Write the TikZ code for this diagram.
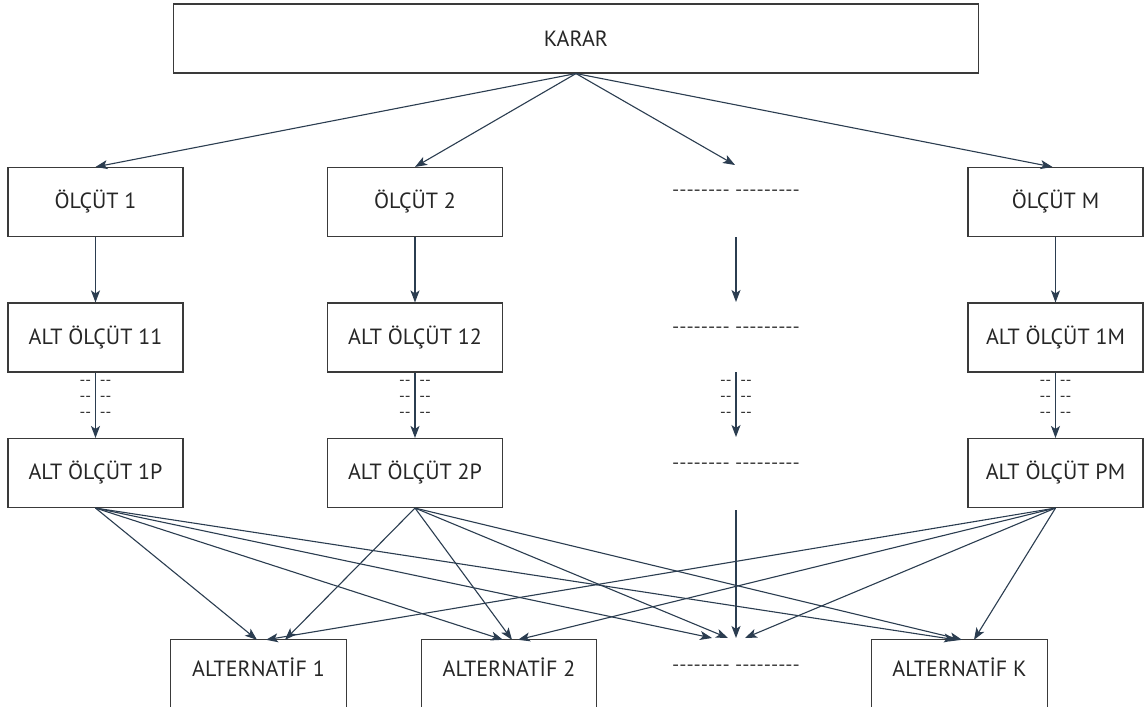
\documentclass[tikz,border=0pt]{standalone}
\usepackage{fontspec}
\setmainfont{PT Sans}
\usetikzlibrary{arrows.meta}
\definecolor{arr}{HTML}{2B3D50}
\definecolor{edge}{HTML}{3A3A3A}
\tikzset{
  box/.style={draw=edge, line width=1.1bp, minimum width=175bp, minimum height=69bp, inner sep=0pt, font=\fontsize{22bp}{26bp}\selectfont, text=black!85},
  altbox/.style={draw=none, minimum width=175bp, minimum height=54bp, inner sep=0pt, font=\fontsize{22bp}{26bp}\selectfont, text=black!85},
  dashtxt/.style={inner sep=0pt, font=\fontsize{20bp}{24bp}\selectfont, text=black!75},
  smalldash/.style={inner sep=0pt, font=\fontsize{16bp}{18bp}\selectfont, text=black!80, align=center},
  con/.style={draw=arr, line width=1.1bp, -{Stealth[length=12bp,width=9bp,inset=3bp]}}
}
\begin{document}
\begin{tikzpicture}[x=1bp,y=-1bp]
\clip (0,0) rectangle (1146,707);
\fill[white] (0,0) rectangle (1146,707);
% top
\node[box, minimum width=805bp] (karar) at (576,38.5) {KARAR};
% row 1
\node[box] (o1) at (95.5,202) {ÖLÇÜT 1};
\node[box] (o2) at (415,202) {ÖLÇÜT 2};
\node[dashtxt] (d1) at (736,193) {-{}-{}-{}-{}-{}-{}-{}- -{}-{}-{}-{}-{}-{}-{}-{}-};
\node[box] (om) at (1055.5,202) {ÖLÇÜT M};
% row 2
\node[box] (a11) at (95.5,337.5) {ALT ÖLÇÜT 11};
\node[box] (a12) at (415,337.5) {ALT ÖLÇÜT 12};
\node[dashtxt] (d2) at (736,330) {-{}-{}-{}-{}-{}-{}-{}- -{}-{}-{}-{}-{}-{}-{}-{}-};
\node[box] (a1m) at (1055.5,337.5) {ALT ÖLÇÜT 1M};
% row 3
\node[box] (a1p) at (95.5,473) {ALT ÖLÇÜT 1P};
\node[box] (a2p) at (415,473) {ALT ÖLÇÜT 2P};
\node[dashtxt] (d3) at (736,466) {-{}-{}-{}-{}-{}-{}-{}- -{}-{}-{}-{}-{}-{}-{}-{}-};
\node[box] (apm) at (1055.5,473) {ALT ÖLÇÜT PM};
% bottom
\node[altbox] (alt1) at (258.5,667) {ALTERNATİF 1};
\node[altbox] (alt2) at (509,667) {ALTERNATİF 2};
\node[dashtxt] (d4) at (736,668) {-{}-{}-{}-{}-{}-{}-{}- -{}-{}-{}-{}-{}-{}-{}-{}-};
\node[altbox] (altk) at (959.5,667) {ALTERNATİF K};
\foreach \n in {alt1,alt2,altk}{
  \draw[edge, line width=1.1bp] ([yshift=-30bp]\n.south west) -- (\n.north west) -- (\n.north east) -- ([yshift=-30bp]\n.south east);
}
% middle column coordinates
\coordinate (m1) at (735,165);
\coordinate (m2s) at (736,237);
\coordinate (m2e) at (736,302);
\coordinate (m3s) at (736,372);
\coordinate (m3e) at (736,437);
\coordinate (m4s) at (736,510);
\coordinate (dt) at (736,638);
% dashes between sub-criteria
\foreach \n/\x in {l/95.5,c/415,mm/736,r/1055.5}{
  \node[smalldash] (\n dash) at (\x,399) {-{}- \ -{}-\\[-2bp]-{}- \ -{}-\\[-2bp]-{}- \ -{}-};
}
% top arrows
\draw[con] (karar.south) -- (o1.north);
\draw[con] (karar.south) -- (o2.north);
\draw[con] (karar.south) -- (m1);
\draw[con] (karar.south) -- ([xshift=-3bp]om.north);
% verticals
\draw[con] (o1) -- (a11);
\draw[con] (o2) -- (a12);
\draw[con] (om) -- (a1m);
\draw[con] (m2s) -- (m2e);
\draw[con] (a11) -- (a1p);
\draw[con] (a12) -- (a2p);
\draw[con] (a1m) -- (apm);
\draw[con] (m3s) -- (m3e);
\draw[con] (m4s) -- (dt);
% bottom fan
\draw[con] (a1p.south) -- ([xshift=-1.5bp]alt1.north);
\draw[con] (a1p.south) -- ([xshift=-6bp]alt2.north);
\draw[con] (a1p.south) -- ([xshift=-24bp]dt);
\draw[con] (a1p.south) -- ([xshift=-3.5bp]altk.north);
\draw[con] (a2p.south) -- ([xshift=26.5bp]alt1.north);
\draw[con] (a2p.south) -- ([xshift=3bp]alt2.north);
\draw[con] (a2p.south) -- ([xshift=-8bp]dt);
\draw[con] (a2p.south) -- ([xshift=2.5bp]altk.north);
\draw[con] (apm.south) -- ([xshift=7.5bp]alt1.north);
\draw[con] (apm.south) -- ([xshift=9bp]alt2.north);
\draw[con] (apm.south) -- ([xshift=9bp]dt);
\draw[con] (apm.south) -- ([xshift=14.5bp]altk.north);
\end{tikzpicture}
\end{document}
